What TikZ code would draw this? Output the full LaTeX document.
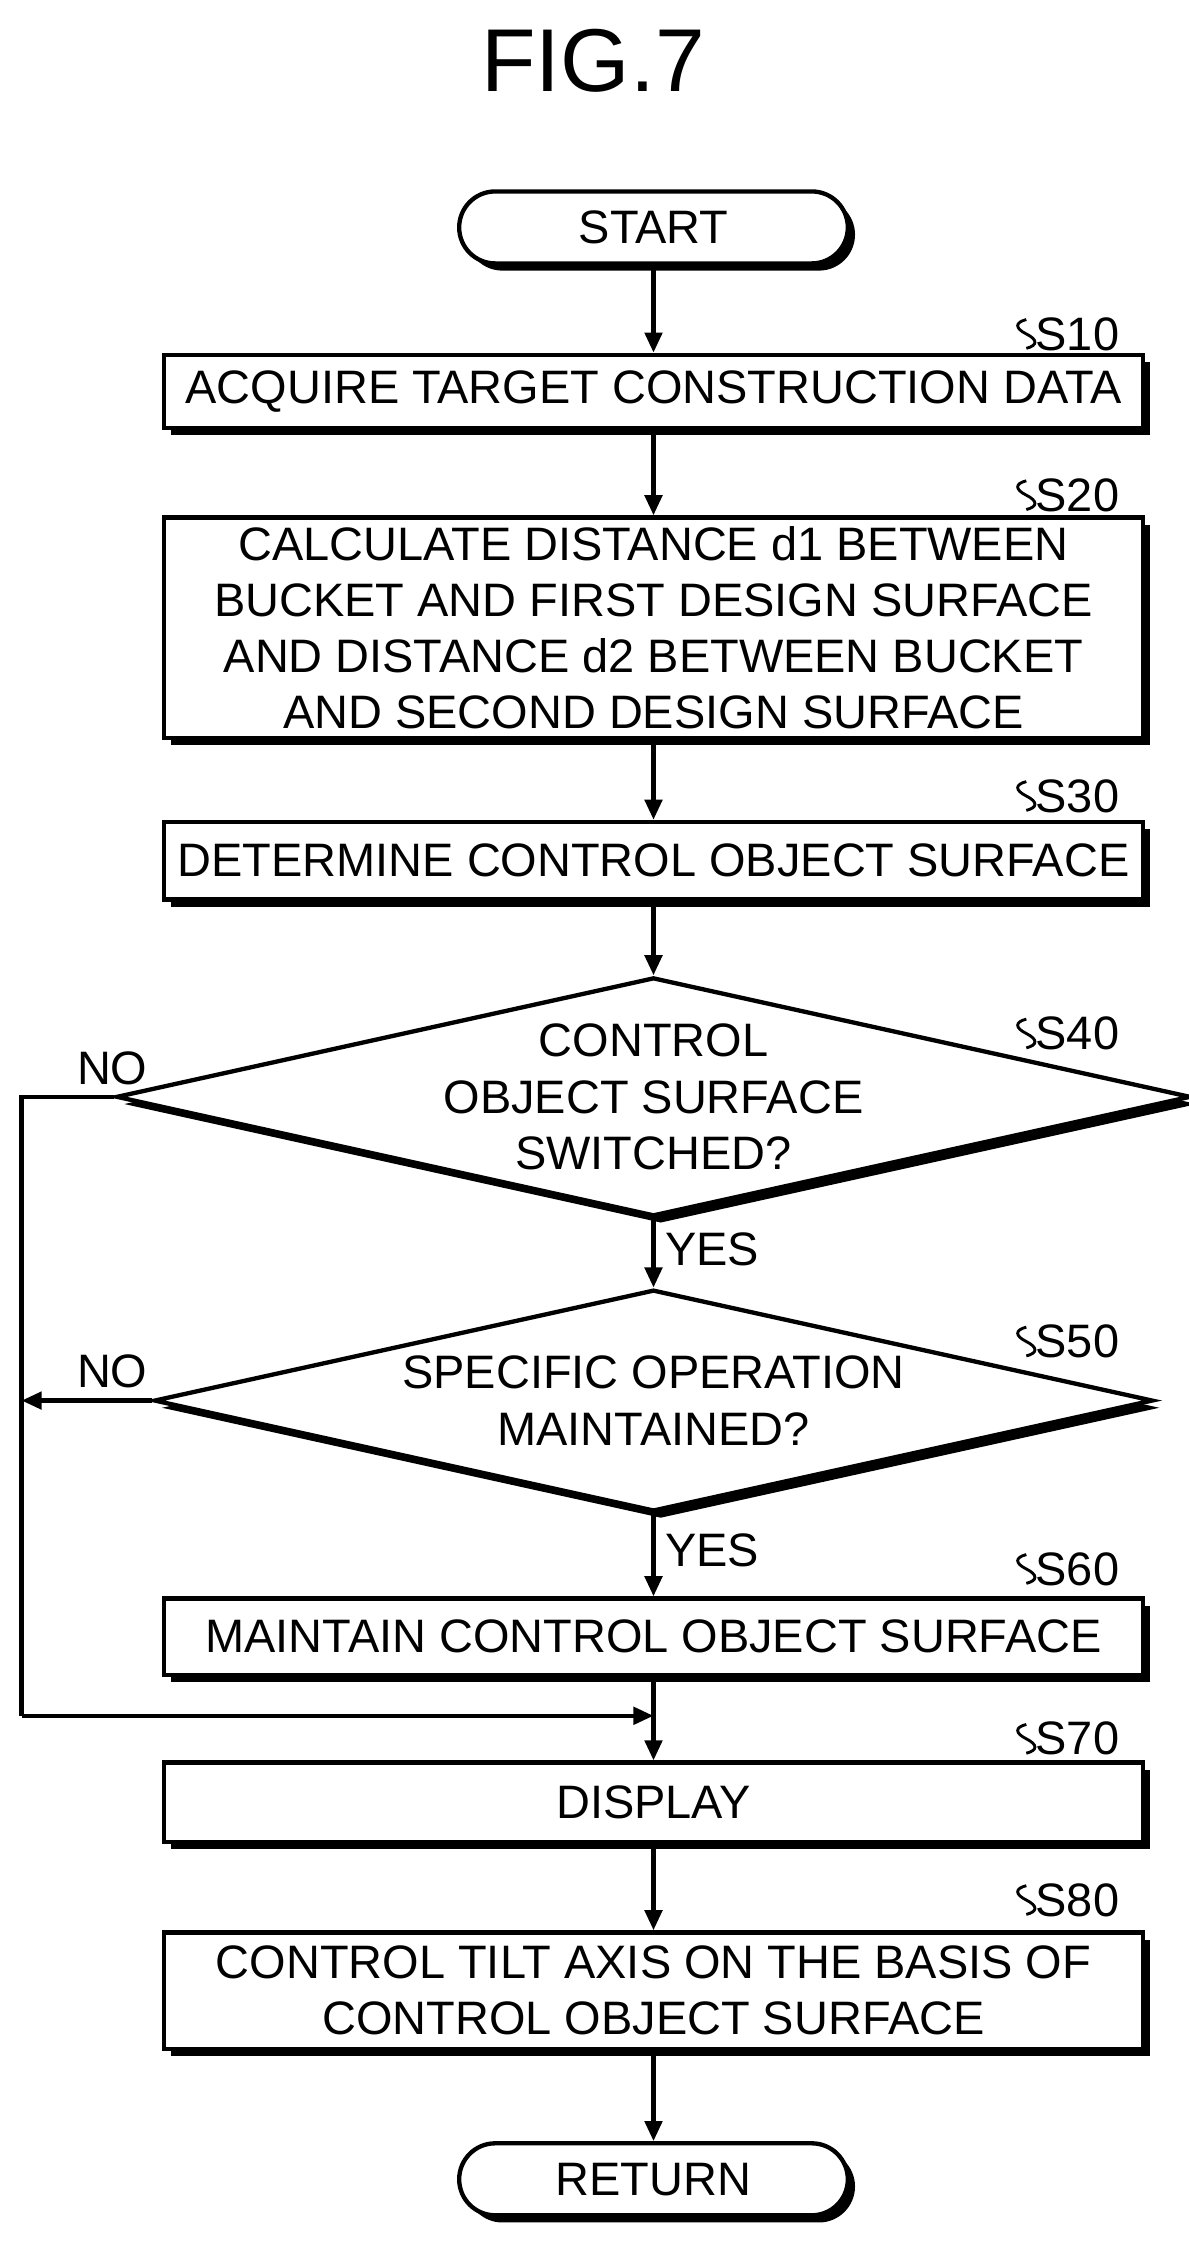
\documentclass[tikz,border=0pt]{standalone}
\usepackage{fontspec}
\setmainfont{Liberation Sans}
\usetikzlibrary{shapes.geometric,shadows,arrows.meta}
\begin{document}
\begin{tikzpicture}[x=0.5pt,y=-0.5pt,line width=1.5pt,
  fnt/.style={font=\fontsize{16.3}{19.5}\selectfont},
  shd/.style={drop shadow={shadow xshift=2.5pt,shadow yshift=-2.5pt,opacity=1,fill=black}},
  box/.style={draw,fill=white,shd,minimum width=340pt,align=center,inner sep=0pt,fnt},
  term/.style={draw,fill=white,shd,rounded corners=12.5pt,minimum width=135pt,minimum height=25pt,fnt},
  dia/.style={draw,fill=white,shd,diamond,aspect=4.5,minimum width=347pt,minimum height=77pt,inner sep=0pt,align=center,fnt},
  lab/.style={fnt},
  arr/.style={-{Triangle[length=7pt,width=6pt]}}]
\useasboundingbox (0,0) rectangle (826,1568);
\node[font=\fontsize{31}{36}\selectfont] (title) at (412,42) {FIG.7};
\node[term] (start) at (454,158) {START};
\node[box,minimum height=25.5pt] (s10) at (454,272) {ACQUIRE TARGET CONSTRUCTION DATA};
\node[box,minimum height=76.5pt] (s20) at (454,436) {CALCULATE DISTANCE d1 BETWEEN\\BUCKET AND FIRST DESIGN SURFACE\\AND DISTANCE d2 BETWEEN BUCKET\\AND SECOND DESIGN SURFACE};
\node[box,minimum height=27pt] (s30) at (454,598) {DETERMINE CONTROL OBJECT SURFACE};
\node[dia] (s40) at (454,762) {CONTROL\\OBJECT SURFACE\\SWITCHED?};
\node[dia] (s50) at (454,973) {SPECIFIC OPERATION\\MAINTAINED?};
\node[box,minimum height=26.5pt] (s60) at (454,1137) {MAINTAIN CONTROL OBJECT SURFACE};
\node[box,minimum height=27.5pt] (s70) at (454,1252) {DISPLAY};
\node[box,minimum height=40.5pt] (s80) at (454,1383) {CONTROL TILT AXIS ON THE BASIS OF\\CONTROL OBJECT SURFACE};
\node[term] (ret) at (454,1514) {RETURN};
\foreach \n/\y in {S10/232,S20/344,S30/553,S40/718,S50/932,S60/1090,S70/1208,S80/1320}{
  \node[lab,anchor=west,inner sep=1pt] (l\n) at (716,\y) {\n};
  \draw[line width=1pt] (l\n.west) ++(-3,-10) .. controls +(-8,2) and +(-8,-4) .. ++(0,10) .. controls +(8,4) and +(8,-2) .. ++(0,10);
}
\coordinate (c1) at (454,1192);
\coordinate (c2) at (15,762);
\coordinate (c3) at (15,973);
\coordinate (c4) at (15,1192);
\draw[arr] (start) -- (s10);
\draw[arr] (s10) -- (s20);
\draw[arr] (s20) -- (s30);
\draw[arr] (s30) -- (s40);
\draw[arr] (s40) -- node[lab,right,pos=0.45]{YES} (s50);
\draw[arr] (s50) -- node[lab,right,pos=0.45]{YES} (s60);
\draw (s60) -- (c1);
\draw[arr] (c1) -- (s70);
\draw[arr] (s70) -- (s80);
\draw[arr] (s80) -- (ret);
\draw (s40.west) -- (c2) -- (c4);
\draw[arr] (c4) -- (c1);
\draw[arr] (s50.west) -- (c3);
\node[lab] (no1) at (78,742) {NO};
\node[lab] (no2) at (78,953) {NO};
\end{tikzpicture}
\end{document}
